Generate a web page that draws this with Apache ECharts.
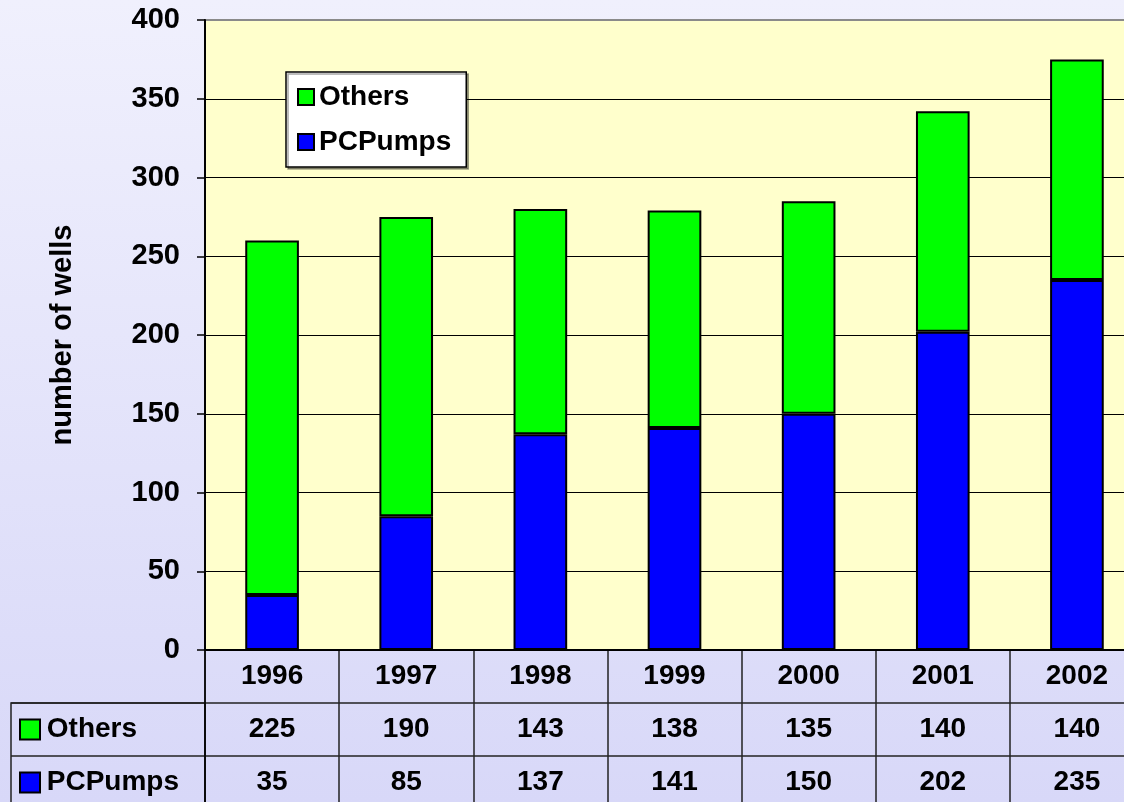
<!DOCTYPE html>
<html>
<head>
<meta charset="utf-8">
<script src="https://cdn.jsdelivr.net/npm/echarts@6/dist/echarts.min.js"></script>
<style>
  html, body { margin: 0; padding: 0; }
  #chart { width: 1124px; height: 802px; }
</style>
</head>
<body>
<div id="chart"></div>
<script>
var years = ['1996', '1997', '1998', '1999', '2000', '2001', '2002']
var others = [225, 190, 143, 138, 135, 140, 140]
var pcpumps = [35, 85, 137, 141, 150, 202, 235]
var tableRows = ['year', 'Others', 'PCPumps']
var seriesColors = { Others: '#00ff00', PCPumps: '#0000ff' }

var font = '"Liberation Sans", Arial, sans-serif'

// table cells, placed on the table grid's category axes
var cells = []
years.forEach(function(y, i) {
  cells.push({ value: [i, 'year'], text: y })
  cells.push({ value: [i, 'Others'], text: String(others[i]) })
  cells.push({ value: [i, 'PCPumps'], text: String(pcpumps[i]) })
})

var chart = echarts.init(document.getElementById('chart'))

chart.setOption({
  animation: false,
  backgroundColor: {
    type: 'linear', x: 0, y: 0, x2: 0, y2: 1,
    colorStops: [
      { offset: 0, color: '#f0f0fd' },
      { offset: 1, color: '#d8d8f8' }
    ]
  },
  textStyle: { fontFamily: font },
  legend: {
    data: ['Others', 'PCPumps'],
    orient: 'vertical',
    left: 286,
    top: 72,
    padding: [11, 15, 11, 11],
    itemGap: 17,
    itemWidth: 16,
    itemHeight: 16,
    icon: 'rect',
    backgroundColor: '#ffffff',
    borderColor: '#000',
    borderWidth: 1.5,
    shadowColor: 'rgba(0,0,0,0.35)',
    shadowOffsetX: 2,
    shadowOffsetY: 2,
    textStyle: { fontSize: 28, fontWeight: 'bold', color: '#000', fontFamily: font }
  },
  grid: [
    {
      // main plot, runs past the right edge of the picture
      left: 205, width: 939, top: 20, bottom: 152,
      outerBoundsMode: 'none',
      show: true,
      backgroundColor: '#ffffcc',
      borderColor: '#8a8a8a',
      borderWidth: 2
    },
    {
      // data table under the plot
      left: 205, width: 939, top: 650, height: 159,
      outerBoundsMode: 'none'
    },
    {
      // left column of the table (row names)
      left: 11, width: 194, top: 703, height: 106,
      outerBoundsMode: 'none',
      show: true,
      borderColor: '#222',
      borderWidth: 1.5
    }
  ],
  xAxis: [
    {
      gridIndex: 0,
      type: 'category',
      data: years,
      axisLine: { show: true, lineStyle: { color: '#000', width: 2 } },
      axisTick: { show: false },
      axisLabel: { show: false }
    },
    {
      gridIndex: 1,
      type: 'category',
      data: years,
      axisLine: { show: false },
      axisTick: { show: false },
      axisLabel: { show: false },
      splitLine: { show: true, lineStyle: { color: '#222', width: 1.5 } }
    },
    {
      gridIndex: 2,
      type: 'value',
      show: false
    }
  ],
  yAxis: [
    {
      gridIndex: 0,
      type: 'value',
      min: 0,
      max: 400,
      interval: 50,
      name: 'number of wells',
      nameLocation: 'middle',
      nameRotate: 90,
      nameGap: 128,
      nameTextStyle: { fontSize: 29, fontWeight: 'bold', color: '#000', fontFamily: font },
      axisLine: { show: true, lineStyle: { color: '#000', width: 2 } },
      axisTick: { show: true, length: 8, lineStyle: { color: '#000', width: 1.5 } },
      axisLabel: { margin: 25, fontSize: 29, fontWeight: 'bold', color: '#000', fontFamily: font },
      splitLine: { show: true, showMaxLine: false, lineStyle: { color: '#000', width: 1 } }
    },
    {
      gridIndex: 1,
      type: 'category',
      data: tableRows,
      inverse: true,
      axisLine: { show: true, lineStyle: { color: '#000', width: 1.5 } },
      axisTick: { show: false },
      axisLabel: {
        align: 'left',
        margin: 184,
        formatter: function(v) {
          if (v === 'year') return ''
          return '{' + v + 'Box|}{txt| ' + v + '}'
        },
        rich: {
          OthersBox: { width: 18, height: 18, backgroundColor: seriesColors.Others, borderColor: '#000', borderWidth: 2 },
          PCPumpsBox: { width: 18, height: 18, backgroundColor: seriesColors.PCPumps, borderColor: '#000', borderWidth: 2 },
          txt: { fontSize: 28, fontWeight: 'bold', color: '#000', fontFamily: font }
        }
      },
      splitLine: { show: true, lineStyle: { color: '#222', width: 1.5 } }
    },
    {
      gridIndex: 2,
      type: 'category',
      data: ['Others', 'PCPumps'],
      inverse: true,
      axisLine: { show: false },
      axisTick: { show: false },
      axisLabel: { show: false },
      splitLine: { show: true, lineStyle: { color: '#222', width: 1.5 } }
    }
  ],
  series: [
    {
      name: 'PCPumps',
      type: 'bar',
      stack: 'wells',
      xAxisIndex: 0,
      yAxisIndex: 0,
      barWidth: '40%',
      itemStyle: { color: seriesColors.PCPumps, borderColor: '#000', borderWidth: 2 },
      data: pcpumps
    },
    {
      name: 'Others',
      type: 'bar',
      stack: 'wells',
      xAxisIndex: 0,
      yAxisIndex: 0,
      barWidth: '40%',
      itemStyle: { color: seriesColors.Others, borderColor: '#000', borderWidth: 2 },
      data: others
    },
    {
      name: 'table',
      type: 'scatter',
      xAxisIndex: 1,
      yAxisIndex: 1,
      symbolSize: 0,
      silent: true,
      itemStyle: { opacity: 1 },
      label: {
        show: true,
        position: 'inside',
        formatter: function(p) { return p.data.text },
        fontSize: 28,
        fontWeight: 'bold',
        color: '#000',
        fontFamily: font
      },
      data: cells
    }
  ]
})
</script>
</body>
</html>
